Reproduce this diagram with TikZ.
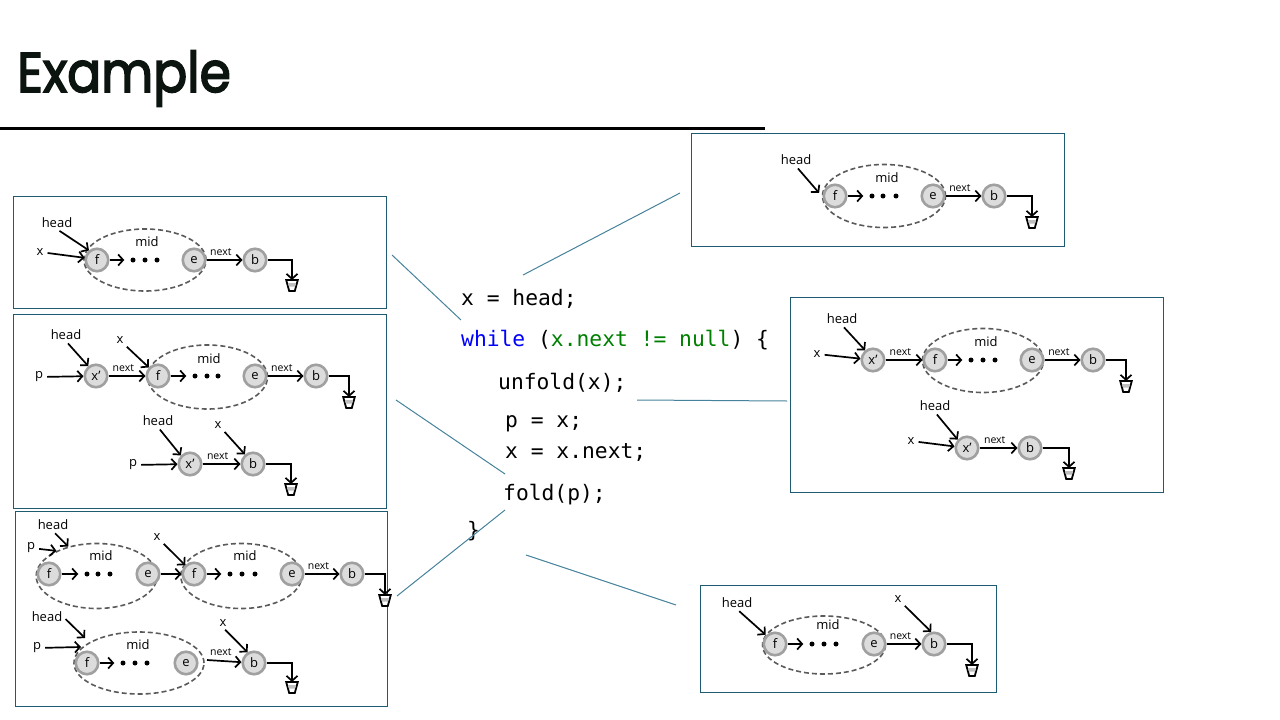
\documentclass[tikz,border=0pt]{standalone}
\usepackage{fontspec}
\setmainfont{Open Sans}
\newfontfamily\titlefont{Poppins}[UprightFeatures={FakeBold=3}]
\newfontfamily\codefamily{DejaVu Sans Mono}
\usepackage{xcolor}
\usetikzlibrary{shapes.geometric,arrows.meta}

\definecolor{cellfill}{RGB}{220,220,220}
\definecolor{cellrim}{RGB}{160,160,160}
\definecolor{chunkline}{RGB}{90,90,90}
\definecolor{panelline}{RGB}{31,90,115}
\definecolor{wireline}{RGB}{70,130,155}
\definecolor{kwblue}{RGB}{0,0,255}
\definecolor{condgreen}{RGB}{0,128,0}
\definecolor{titleink}{RGB}{12,20,16}

\tikzset{
  cell/.style={circle, draw=cellrim, fill=cellfill, line width=2.6pt, minimum size=22.5pt, inner sep=0pt, font=\fontsize{13}{13}\selectfont},
  chunk/.style={ellipse, draw=chunkline, dash pattern=on 5pt off 3pt, line width=1.6pt, minimum width=121pt, minimum height=63pt, inner sep=0pt},
  lbl/.style={inner sep=1pt, font=\fontsize{13}{13}\selectfont},
  nxt/.style={inner sep=1pt, font=\fontsize{10.5}{10.5}\selectfont},
  link/.style={-{Straight Barb[length=5pt,width=11pt]}, line width=1.7pt},
  ptr/.style={link, shorten <=3pt},
  tipgap/.style={shorten >=6pt},
  pip/.style={circle, fill=black, inner sep=0pt, minimum size=5pt},
  panel/.style={draw=panelline, line width=1pt, anchor=north west, inner sep=0pt},
  wire/.style={draw=wireline, line width=1pt},
  code/.style={anchor=base west, inner sep=0pt, font=\codefamily\fontsize{21.3}{21.3}\selectfont},
  nullend/.pic={
    \draw[line width=1.8pt, fill=white] (-5.8,0) -- (5.8,0) -- (2.8,11) -- (-2.8,11) -- cycle;
    \fill[gray!50] (-4.0,3.2) -- (4.0,3.2) -- (3.1,6.6) -- (-3.1,6.6) -- cycle;
  }
}

\begin{document}
\begin{tikzpicture}[x=1pt,y=-1pt]
\useasboundingbox (0,0) rectangle (1280,720);

% title and rule
\node[anchor=base west, inner sep=0pt, text=titleink, font=\titlefont\fontsize{56}{56}\selectfont] (title) at (17,92) {\scalebox{0.9}[1]{Example}};
\coordinate (ruleL) at (0,128);
\coordinate (ruleR) at (765,128);
\draw[line width=3pt] (ruleL) -- (ruleR);

% panels
\node[panel, minimum width=373pt, minimum height=112pt] (boxA) at (13,196) {};
\node[panel, minimum width=373pt, minimum height=194pt] (boxB) at (13,314) {};
\node[panel, minimum width=372pt, minimum height=195pt] (boxC) at (15,511) {};
\node[panel, minimum width=373pt, minimum height=113pt] (boxD) at (691,133) {};
\node[panel, minimum width=373pt, minimum height=195pt] (boxE) at (790,297) {};
\node[panel, minimum width=296pt, minimum height=107pt] (boxF) at (700,585) {};

% code
\node[code] (c1) at (461,305) {x = head;};
\node[code] (c2) at (461,346) {\textcolor{kwblue}{while} (\textcolor{condgreen}{x.next != null}) \{};
\node[code] (c3) at (498,389) {unfold(x);};
\node[code] (c4) at (505,427) {p = x;};
\node[code] (c5) at (505,458) {x = x.next;};
\node[code] (c6) at (503,500) {fold(p);};
\node[code] (c7) at (467,537) {\}};

% wires from code to panels
\coordinate (wA1) at (392,255); \coordinate (wA2) at (461,320);
\coordinate (wD1) at (523,275); \coordinate (wD2) at (680,193);
\coordinate (wE1) at (637,400); \coordinate (wE2) at (787,401);
\coordinate (wB1) at (396,400); \coordinate (wB2) at (505,474);
\coordinate (wC1) at (505,510); \coordinate (wC2) at (397,596);
\coordinate (wF1) at (526,555); \coordinate (wF2) at (676,605);
\foreach \s/\t in {wA1/wA2,wD1/wD2,wE1/wE2,wB1/wB2,wC1/wC2,wF1/wF2}
  \draw[wire] (\s) -- (\t);

%% panel A
\node[chunk, minimum width=122pt, minimum height=62pt] (A-mid) at (145,260) {};
\node[lbl] (A-midl) at (147,242) {mid};
\node[cell] (A-f) at (97,260) {f};
\node[cell] (A-e) at (194,260) {e};
\node[cell] (A-b) at (255,260) {b};
\foreach \i/\xx in {1/133,2/145,3/157} \node[pip] (A-d\i) at (\xx,260) {};
\node[lbl] (A-head) at (57,223) {head};
\node[lbl] (A-x) at (40,252) {x};
\coordinate (A-nil) at (292,280);
\path (A-nil) pic {nullend};
\draw[ptr] (A-head.south) -- (A-f.130);
\draw[ptr] (A-x) -- (A-f.170);
\draw[link, tipgap] (A-f) -- (A-d1);
\draw[link] (A-e) -- node[nxt, above=3pt, pos=0.4] {next} (A-b);
\draw[link] (A-b) -| (A-nil);

%% panel B
\node[chunk, minimum width=120pt, minimum height=64pt] (B-mid) at (207.5,377) {};
\node[lbl] (B-midl) at (209,359) {mid};
\node[cell] (B-xp) at (96,376) {x’};
\node[cell] (B-f) at (158,376) {f};
\node[cell] (B-e) at (255,376) {e};
\node[cell] (B-b) at (316,376) {b};
\foreach \i/\xx in {1/195,2/207,3/218} \node[pip] (B-d\i) at (\xx,376) {};
\node[lbl] (B-head) at (66,335) {head};
\node[lbl] (B-p) at (39,377) {p};
\node[lbl] (B-x) at (120,340) {x};
\coordinate (B-nil) at (349,397);
\path (B-nil) pic {nullend};
\draw[ptr] (B-head.south) -- (B-xp.128);
\draw[ptr] (B-p) -- (B-xp);
\draw[link] (B-xp) -- node[nxt, above=3pt, pos=0.4] {next} (B-f);
\draw[ptr] (B-x.south east) -- (B-f.137);
\draw[link, tipgap] (B-f) -- (B-d1);
\draw[link] (B-e) -- node[nxt, above=3pt, pos=0.4] {next} (B-b);
\draw[link] (B-b) -| (B-nil);
% second list
\node[cell] (B-xp2) at (190,464) {x’};
\node[cell] (B-b2) at (253,464) {b};
\node[lbl] (B-head2) at (158,421) {head};
\node[lbl] (B-x2) at (218,425) {x};
\node[lbl] (B-p2) at (133,465) {p};
\coordinate (B-nil2) at (291,484);
\path (B-nil2) pic {nullend};
\draw[ptr] (B-head2.south) -- (B-xp2.137);
\draw[ptr] (B-x2.south east) -- (B-b2.130);
\draw[ptr] (B-p2) -- (B-xp2);
\draw[link] (B-xp2) -- node[nxt, above=3pt, pos=0.4] {next} (B-b2);
\draw[link] (B-b2) -| (B-nil2);

%% panel C
\node[chunk, minimum width=121pt, minimum height=65pt] (C-mid1) at (96.7,576) {};
\node[lbl] (C-midl1) at (101,556) {mid};
\node[cell] (C-f1) at (49,574) {f};
\node[cell] (C-e1) at (148,574) {e};
\foreach \i/\xx in {1/87,2/98,3/110} \node[pip] (C-d\i) at (\xx,574) {};
\node[chunk, minimum width=121pt, minimum height=65pt] (C-mid2) at (241.3,576) {};
\node[lbl] (C-midl2) at (245,556) {mid};
\node[cell] (C-f2) at (194,574) {f};
\node[cell] (C-e2) at (292,574) {e};
\foreach \i/\xx in {4/230,5/242,6/255} \node[pip] (C-d\i) at (\xx,574) {};
\node[cell] (C-b) at (352,574) {b};
\node[lbl] (C-head) at (53,525) {head};
\node[lbl] (C-p) at (31,548) {p};
\node[lbl] (C-x) at (157,537) {x};
\coordinate (C-nil) at (385,595);
\path (C-nil) pic {nullend};
\draw[ptr] (C-head.south) -- (C-mid1.134);
\draw[ptr] (C-p) -- (C-mid1.148);
\draw[link, tipgap] (C-f1) -- (C-d1);
\draw[link] (C-e1) -- (C-f2);
\draw[ptr] (C-x.south east) -- (C-f2.135);
\draw[link, tipgap] (C-f2) -- (C-d4);
\draw[link] (C-e2) -- node[nxt, above=3pt, pos=0.4] {next} (C-b);
\draw[link] (C-b) -| (C-nil);
% second list
\node[chunk, minimum width=130pt, minimum height=62pt] (C-mid3) at (139,663) {};
\node[lbl] (C-midl3) at (138,645) {mid};
\node[cell] (C-f3) at (87,663) {f};
\node[cell] (C-e3) at (186,663) {e};
\foreach \i/\xx in {7/123,8/135,9/147} \node[pip] (C-d\i) at (\xx,663) {};
\node[cell] (C-b3) at (254,663) {b};
\node[lbl] (C-head2) at (47,617) {head};
\node[lbl] (C-p2) at (37,648) {p};
\node[lbl] (C-x3) at (223,623) {x};
\coordinate (C-tip3) at (85,638);
\coordinate (C-tip4) at (81,647);
\coordinate (C-gap) at (207,660);
\coordinate (C-nil3) at (292,682);
\path (C-nil3) pic {nullend};
\draw[ptr] (C-head2.east) -- (C-tip3);
\draw[ptr] (C-p2) -- (C-tip4);
\draw[link, tipgap] (C-f3) -- (C-d7);
\draw[ptr] (C-x3.south) -- (C-b3.121);
\draw[link] (C-gap) -- node[nxt, above=3pt, pos=0.4] {next} (C-b3);
\draw[link] (C-b3) -| (C-nil3);

%% panel D
\node[chunk, minimum width=123pt, minimum height=63pt] (D-mid) at (884,196) {};
\node[lbl] (D-midl) at (887,178) {mid};
\node[cell] (D-f) at (835,196) {f};
\node[cell] (D-e) at (933,196) {e};
\node[cell] (D-b) at (994,196) {b};
\foreach \i/\xx in {1/872,2/883,3/896} \node[pip] (D-d\i) at (\xx,196) {};
\node[lbl] (D-head) at (796,160) {head};
\coordinate (D-nil) at (1032,217);
\path (D-nil) pic {nullend};
\draw[ptr, shorten >=4pt] (D-head.south) -- (D-mid.west);
\draw[link, tipgap] (D-f) -- (D-d1);
\draw[link] (D-e) -- node[nxt, above=3pt, pos=0.4] {next} (D-b);
\draw[link] (D-b) -| (D-nil);

%% panel E
\node[chunk, minimum width=121pt, minimum height=64pt] (E-mid) at (983,360.5) {};
\node[lbl] (E-midl) at (986,342) {mid};
\node[cell] (E-xp) at (873,360) {x’};
\node[cell] (E-f) at (935,360) {f};
\node[cell] (E-e) at (1032,360) {e};
\node[cell] (E-b) at (1093,360) {b};
\foreach \i/\xx in {1/971,2/983,3/995} \node[pip] (E-d\i) at (\xx,360) {};
\node[lbl] (E-head) at (842,319) {head};
\node[lbl] (E-x) at (817,354) {x};
\coordinate (E-nil) at (1126,381);
\path (E-nil) pic {nullend};
\draw[ptr] (E-head.south) -- (E-xp.129);
\draw[ptr] (E-x) -- (E-xp);
\draw[link] (E-xp) -- node[nxt, above=3pt, pos=0.4] {next} (E-f);
\draw[link, tipgap] (E-f) -- (E-d1);
\draw[link] (E-e) -- node[nxt, above=3pt, pos=0.4] {next} (E-b);
\draw[link] (E-b) -| (E-nil);
% second list
\node[cell] (E-xp2) at (967,448) {x’};
\node[cell] (E-b2) at (1030,448) {b};
\node[lbl] (E-head2) at (935,406) {head};
\node[lbl] (E-x2) at (911,441) {x};
\coordinate (E-nil2) at (1069,468);
\path (E-nil2) pic {nullend};
\draw[ptr] (E-head2.south) -- (E-xp2.138);
\draw[ptr] (E-x2) -- (E-xp2);
\draw[link] (E-xp2) -- node[nxt, above=3pt, pos=0.4] {next} (E-b2);
\draw[link] (E-b2) -| (E-nil2);

%% panel F
\node[chunk, minimum width=123pt, minimum height=58pt] (F-mid) at (824,645) {};
\node[lbl] (F-midl) at (828,625) {mid};
\node[cell] (F-f) at (775,644) {f};
\node[cell] (F-e) at (874,644) {e};
\node[cell] (F-b) at (934,644) {b};
\foreach \i/\xx in {1/812,2/824,3/836} \node[pip] (F-d\i) at (\xx,644) {};
\node[lbl] (F-head) at (737,603) {head};
\node[lbl] (F-x) at (898,599) {x};
\coordinate (F-nil) at (972,665);
\path (F-nil) pic {nullend};
\draw[ptr] (F-head.south) -- (F-mid.170);
\draw[link, tipgap] (F-f) -- (F-d1);
\draw[ptr] (F-x.south east) -- (F-b.103);
\draw[link] (F-e) -- node[nxt, above=3pt, pos=0.4] {next} (F-b);
\draw[link] (F-b) -| (F-nil);
\end{tikzpicture}
\end{document}
